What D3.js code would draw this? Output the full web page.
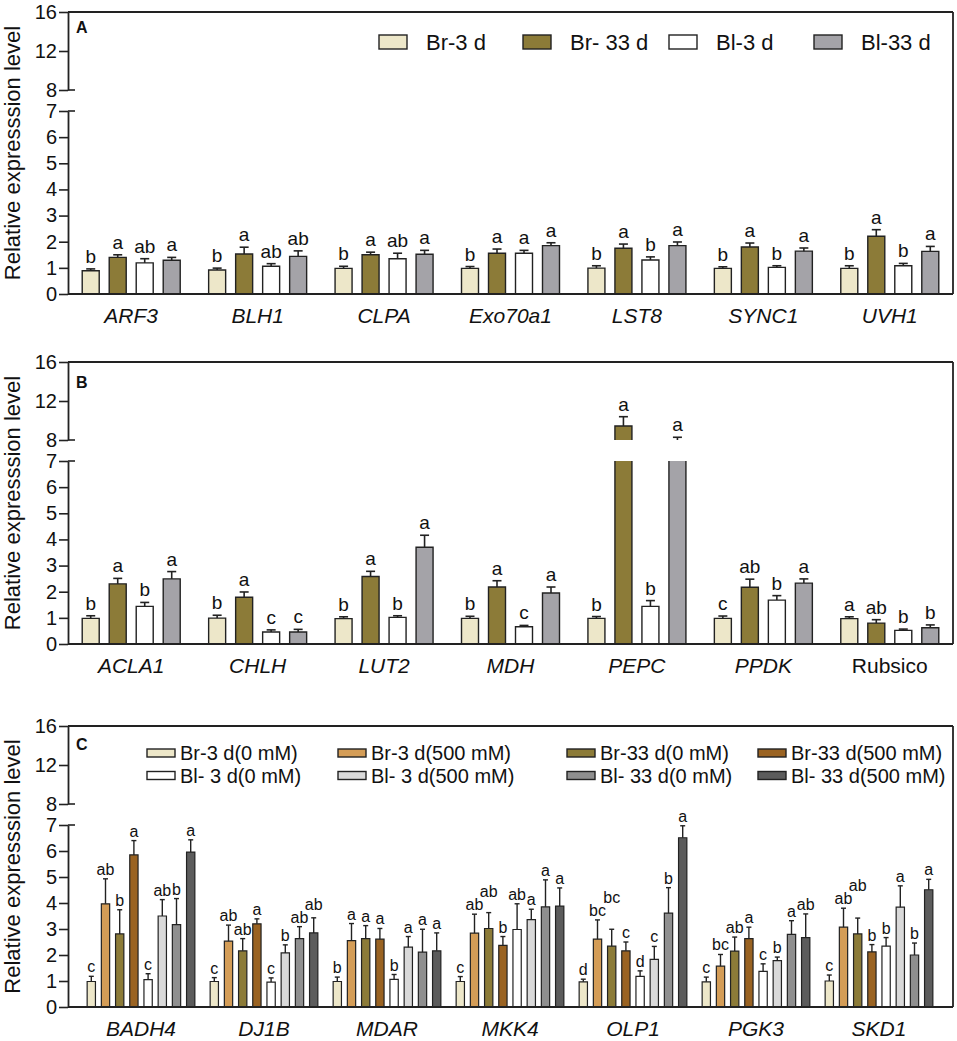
<!DOCTYPE html>
<html>
<head>
<meta charset="utf-8">
<script src="https://cdn.jsdelivr.net/npm/d3@7/dist/d3.min.js"></script>
<style>
body{margin:0;background:#fff;}
text{font-family:"Liberation Sans",Arial,Helvetica,sans-serif;fill:#111;}
</style>
</head>
<body>
<svg id="chart" width="957" height="1041"></svg>
<script>
// ---------- DATA ----------
const genesA = ["ARF3","BLH1","CLPA","Exo70a1","LST8","SYNC1","UVH1"];
const genesB = ["ACLA1","CHLH","LUT2","MDH","PEPC","PPDK","Rubsico"];
const genesC = ["BADH4","DJ1B","MDAR","MKK4","OLP1","PGK3","SKD1"];
const seriesAB = ["Br-3 d","Br- 33 d","Bl-3 d","Bl-33 d"];
const seriesC = ["Br-3 d(0 mM)","Br-3 d(500 mM)","Br-33 d(0 mM)","Br-33 d(500 mM)",
                 "Bl- 3 d(0 mM)","Bl- 3 d(500 mM)","Bl- 33 d(0 mM)","Bl- 33 d(500 mM)"];
const yTicksLower = [0,1,2,3,4,5,6,7];
const yTicksUpper = [8,12,16];

// Panel A
const br3A   = [0.89,0.92,0.98,0.98,0.99,0.98,0.98];
const br3AErr= [0.07,0.07,0.08,0.07,0.09,0.06,0.10];
const br33A  = [1.40,1.53,1.50,1.56,1.75,1.80,2.21];
const br33AErr=[0.10,0.26,0.10,0.16,0.16,0.15,0.25];
const bl3A   = [1.19,1.06,1.35,1.56,1.30,1.02,1.08];
const bl3AErr= [0.16,0.10,0.21,0.11,0.12,0.06,0.09];
const bl33A  = [1.29,1.44,1.52,1.85,1.85,1.64,1.63];
const bl33AErr=[0.11,0.21,0.15,0.11,0.14,0.12,0.19];
const br3ALab = ["b","b","b","b","b","b","b"];
const br33ALab= ["a","a","a","a","a","a","a"];
const bl3ALab = ["ab","ab","ab","a","b","b","b"];
const bl33ALab= ["a","ab","a","a","a","a","a"];

// Panel B
const br3B   = [0.98,0.99,0.97,0.98,0.98,0.98,0.97];
const br3BErr= [0.10,0.11,0.07,0.08,0.07,0.09,0.07];
const br33B  = [2.30,1.79,2.58,2.18,9.44,2.17,0.80];
const br33BErr=[0.21,0.20,0.20,0.24,0.95,0.31,0.13];
const bl3B   = [1.44,0.46,1.02,0.66,1.44,1.68,0.52];
const bl3BErr= [0.15,0.08,0.06,0.05,0.22,0.17,0.05];
const bl33B  = [2.49,0.46,3.70,1.95,7.90,2.33,0.62];
const bl33BErr=[0.28,0.10,0.46,0.23,0.38,0.16,0.11];
const br3BLab = ["b","b","b","b","b","c","a"];
const br33BLab= ["a","a","a","a","a","ab","ab"];
const bl3BLab = ["b","c","b","c","b","b","b"];
const bl33BLab= ["a","c","a","a","a","a","b"];

// Panel C
const br3_0C    = [0.98,0.98,0.98,0.98,0.97,0.97,1.00];
const br3_0CErr = [0.20,0.15,0.17,0.19,0.10,0.18,0.23];
const br3_500C  = [3.97,2.53,2.55,2.84,2.61,1.57,3.07];
const br3_500CErr=[0.96,0.62,0.66,0.73,0.74,0.45,0.73];
const br33_0C   = [2.81,2.16,2.63,3.02,2.34,2.15,2.81];
const br33_0CErr= [0.93,0.47,0.50,0.61,0.65,0.54,0.61];
const br33_500C = [5.85,3.20,2.61,2.37,2.16,2.63,2.12];
const br33_500CErr=[0.55,0.19,0.41,0.34,0.34,0.44,0.28];
const bl3_0C    = [1.05,0.96,1.06,2.98,1.18,1.37,2.34];
const bl3_0CErr = [0.23,0.16,0.19,0.99,0.21,0.29,0.33];
const bl3_500C  = [3.50,2.08,2.30,3.36,1.83,1.78,3.84];
const bl3_500CErr=[0.63,0.31,0.41,0.40,0.50,0.14,0.82];
const bl33_0C   = [3.17,2.63,2.11,3.85,3.61,2.79,2.00];
const bl33_0CErr= [1.00,0.46,0.88,1.04,0.98,0.53,0.46];
const bl33_500C = [5.96,2.85,2.16,3.88,6.51,2.67,4.51];
const bl33_500CErr=[0.47,0.58,0.69,0.70,0.46,0.91,0.40];
const lab0C = ["c","c","b","c","d","c","c"];
const lab1C = ["ab","ab","a","ab","bc","bc","ab"];
const lab2C = ["b","ab","a","ab","bc","ab","ab"];
const lab3C = ["a","a","a","b","c","a","b"];
const lab4C = ["c","c","b","ab","d","c","b"];
const lab5C = ["ab","b","a","a","c","b","a"];
const lab6C = ["b","ab","a","a","b","a","b"];
const lab7C = ["a","ab","a","a","a","ab","a"];

const colorsAB = ["#EDE7C9","#8C7B38","#FFFFFF","#A4A3A8"];
const colorsC  = ["#EDE7C9","#D49D57","#8C7B38","#9A6322","#FFFFFF","#D9D9D9","#8F8F8F","#5C5C5C"];

// ---------- DRAW ----------
const svg = d3.select("#chart");
const FONT = '"Liberation Sans",Arial,Helvetica,sans-serif';
const XL = 68, XR = 953;

function panel(cfg){
  const g = svg.append("g");
  const yL = d3.scaleLinear().domain([0,7]).range([cfg.y0, cfg.y7]);
  const yU = d3.scaleLinear().domain([8,16]).range([cfg.y8, cfg.top]);
  const yv = v => v <= 7 ? yL(v) : (v >= 8 ? yU(v) : null);

  const x0 = d3.scaleBand().domain(cfg.genes).range(cfg.xRange).padding(0);
  const n = cfg.series.length;
  const x1 = d3.scaleBand().domain(d3.range(n)).range([-cfg.span/2, cfg.span/2])
      .paddingInner(cfg.padIn).paddingOuter(cfg.padIn/2);
  const bw = x1.bandwidth();

  g.append("line").attr("x1",XL).attr("x2",XR).attr("y1",cfg.top).attr("y2",cfg.top)
    .attr("stroke","#222").attr("stroke-width",1.8);
  g.append("line").attr("x1",XR).attr("x2",XR).attr("y1",cfg.top).attr("y2",cfg.y0)
    .attr("stroke","#222").attr("stroke-width",1.8);

  const groupLabels = cfg.genes.map(()=>[]);

  cfg.series.forEach((s,si)=>{
    const vals = cfg.values[si], errs = cfg.errs[si], labs = cfg.labels[si];
    cfg.genes.forEach((gene,gi)=>{
      const v = vals[gi], e = errs[gi];
      const xc = x0(gene) + x0.bandwidth()/2 + x1(si) + bw/2;
      const xa = xc - bw/2, xb = xc + bw/2;
      const col = cfg.colors[si];
      const sw = cfg.barStroke;
      const vLow = Math.min(v,7);
      const yt = yL(vLow);
      g.append("rect").attr("x",xa).attr("y",yt).attr("width",bw).attr("height",cfg.y0-yt).attr("fill",col);
      let p = `M${xa},${cfg.y0}L${xa},${yt}`;
      p += v <= 7 ? `L${xb},${yt}` : `M${xb},${yt}`;
      p += `L${xb},${cfg.y0}`;
      g.append("path").attr("d",p).attr("fill","none").attr("stroke","#222").attr("stroke-width",sw);
      if (v > 8){
        const yt2 = yU(v);
        g.append("rect").attr("x",xa).attr("y",yt2).attr("width",bw).attr("height",cfg.y8-yt2).attr("fill",col);
        g.append("path").attr("d",`M${xa},${cfg.y8}L${xa},${yt2}L${xb},${yt2}L${xb},${cfg.y8}`)
          .attr("fill","none").attr("stroke","#222").attr("stroke-width",sw);
      }
      const top = v + e;
      const cw = cfg.capW;
      if (v < 7){
        g.append("line").attr("x1",xc).attr("x2",xc).attr("y1",yL(v)).attr("y2",yL(Math.min(top,7)))
          .attr("stroke","#222").attr("stroke-width",cfg.errStroke);
      }
      if (top > 8){
        g.append("line").attr("x1",xc).attr("x2",xc).attr("y1",yU(Math.max(v,8))).attr("y2",yU(top))
          .attr("stroke","#222").attr("stroke-width",cfg.errStroke);
      }
      const yc = yv(top);
      if (yc !== null){
        g.append("line").attr("x1",xc-cw/2).attr("x2",xc+cw/2).attr("y1",yc).attr("y2",yc)
          .attr("stroke","#222").attr("stroke-width",cfg.errStroke);
        const t = g.append("text").attr("x",xc).attr("y",yc-cfg.labOff).attr("text-anchor","middle")
          .style("font-size",cfg.labSize+"px").text(labs[gi]);
        groupLabels[gi][si] = t;
      }
    });
  });

  // resolve overlapping significance letters within a gene group
  groupLabels.forEach(list=>{
    const placed = [];
    list.forEach(t=>{
      if (!t) return;
      for (let k=0;k<20;k++){
        const b = t.node().getBBox();
        const bb = {x:b.x+1, y:b.y+3, w:b.width-2, h:b.height-5};
        const hit = placed.find(o=> bb.x < o.x+o.w && o.x < bb.x+bb.w && bb.y < o.y+o.h && o.y < bb.y+bb.h);
        if (!hit) break;
        t.attr("y", +t.attr("y") - ((bb.y+bb.h) - hit.y + 1));
      }
      const b = t.node().getBBox();
      placed.push({x:b.x+1, y:b.y+3, w:b.width-2, h:b.height-5});
    });
  });

  g.append("line").attr("x1",XL).attr("x2",XR).attr("y1",cfg.y0).attr("y2",cfg.y0)
    .attr("stroke","#222").attr("stroke-width",1.8);

  cfg.genes.forEach(gene=>{
    g.append("text").attr("x",x0(gene)+x0.bandwidth()/2).attr("y",cfg.y0+29)
      .attr("text-anchor","middle").style("font-size","21px")
      .style("font-style", gene==="Rubsico" ? "normal" : "italic").text(gene);
  });

  const fmt = d3.format("d");
  const axL = d3.axisLeft(yL).tickValues(yTicksLower).tickFormat(fmt).tickSize(9).tickSizeOuter(0).tickPadding(2);
  const axU = d3.axisLeft(yU).tickValues(yTicksUpper).tickFormat(fmt).tickSize(9).tickSizeOuter(0).tickPadding(2);
  [axL,axU].forEach(ax=>{
    const a = g.append("g").attr("transform",`translate(${XL},0)`).call(ax);
    a.select(".domain").attr("stroke","#222").attr("stroke-width",1.8);
    a.selectAll(".tick line").attr("stroke","#222").attr("stroke-width",1.6);
    a.selectAll(".tick text").style("font-size","20px").style("font-family",FONT).attr("fill","#111");
  });
  [cfg.y7, cfg.y8].forEach(yy=>{
    g.append("line").attr("x1",XL).attr("x2",XL+7).attr("y1",yy).attr("y2",yy)
      .attr("stroke","#222").attr("stroke-width",1.6);
  });

  g.append("text").attr("transform",`translate(20,${(cfg.top+cfg.y0)/2}) rotate(-90)`)
    .attr("text-anchor","middle").style("font-size","22px").text("Relative expresssion level");

  g.append("text").attr("x",76).attr("y",cfg.letterY).style("font-size","16px").style("font-weight","bold")
    .text(cfg.letter);

  const L = cfg.legend;
  if (L){
    cfg.series.forEach((s,si)=>{
      const col = si % L.cols, row = Math.floor(si / L.cols);
      const lx = L.xs[col], ly = L.ys[row];
      g.append("rect").attr("x",lx).attr("y",ly - L.h/2).attr("width",28).attr("height",L.h)
        .attr("fill",cfg.colors[si]).attr("stroke","#222").attr("stroke-width",1.4);
      g.append("text").attr("x",lx+L.tx).attr("y",ly+L.dy).style("font-size",L.fs+"px").text(s);
    });
  }
}

panel({
  genes: genesA, series: seriesAB, colors: colorsAB,
  values:[br3A,br33A,bl3A,bl33A], errs:[br3AErr,br33AErr,bl3AErr,bl33AErr],
  labels:[br3ALab,br33ALab,bl3ALab,bl33ALab],
  top:12, y8:90, y7:111, y0:294, xRange:[XL,XR], span:108, padIn:10/27,
  barStroke:1.4, errStroke:1.6, capW:9, labSize:19, labOff:6,
  letter:"A", letterY:33,
  legend:{cols:4, xs:[379,523,669,814], ys:[42], h:14, tx:47, dy:8, fs:22}
});
panel({
  genes: genesB, series: seriesAB, colors: colorsAB,
  values:[br3B,br33B,bl3B,bl33B], errs:[br3BErr,br33BErr,bl3BErr,bl33BErr],
  labels:[br3BLab,br33BLab,bl3BLab,bl33BLab],
  top:362, y8:440, y7:461, y0:644, xRange:[XL,XR], span:108, padIn:10/27,
  barStroke:1.4, errStroke:1.6, capW:9, labSize:19, labOff:6,
  letter:"B", letterY:388,
  legend:null
});
panel({
  genes: genesC, series: seriesC, colors: colorsC,
  values:[br3_0C,br3_500C,br33_0C,br33_500C,bl3_0C,bl3_500C,bl33_0C,bl33_500C],
  errs:[br3_0CErr,br3_500CErr,br33_0CErr,br33_500CErr,bl3_0CErr,bl3_500CErr,bl33_0CErr,bl33_500CErr],
  labels:[lab0C,lab1C,lab2C,lab3C,lab4C,lab5C,lab6C,lab7C],
  top:726, y8:804, y7:825, y0:1007, xRange:[79.5,940.5], span:113.6, padIn:5.9/14.2,
  barStroke:1.2, errStroke:1.4, capW:5, labSize:16, labOff:4,
  letter:"C", letterY:750,
  legend:{cols:4, xs:[147,338,567,758], ys:[753,775.5], h:8, tx:33, dy:7, fs:20}
});
</script>
</body>
</html>
